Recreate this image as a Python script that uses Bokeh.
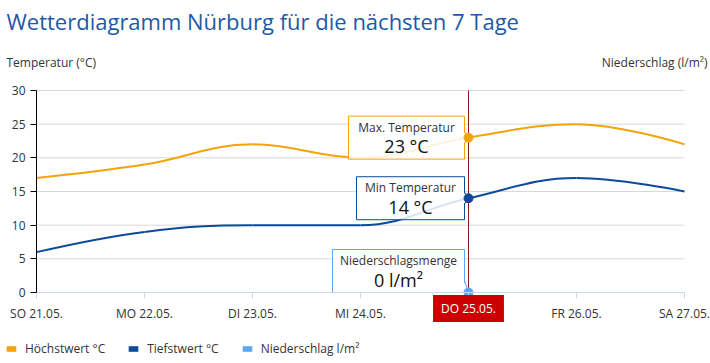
from bokeh.plotting import figure
from bokeh.models import Label, Legend, LegendItem, FixedTicker, Range1d
from bokeh.embed import file_html
from bokeh.resources import INLINE

# ---- data -------------------------------------------------------------
day_labels = ["SO 21.05.", "MO 22.05.", "DI 23.05.", "MI 24.05.",
              "DO 25.05.", "FR 26.05.", "SA 27.05."]
max_temp = [17, 19, 22, 20, 23, 25, 22]
min_temp = [6, 9, 10, 10, 14, 17, 15]
precip = [0, 0, 0, 0, 0, 0, 0]
y_ticks = [0, 5, 10, 15, 20, 25, 30]
selected = 4  # highlighted day (DO 25.05.)

# ---- layout (pixel geometry of the plot area inside the canvas) ----------
W, H = 710, 363
PL, PR, PT, PB = 36, 684, 90, 292
days = list(range(len(day_labels)))
X0, X1 = days[0], days[-1]
Y0, Y1 = y_ticks[0], y_ticks[-1]
PXX = (PR - PL) / (X1 - X0)
PXY = (PB - PT) / (Y1 - Y0)

FONT = "Open Sans"
ORANGE = "#f5a30b"
BLUE = "#0c4a9a"
LBLUE = "#5ba7f5"
RED = "#cc0000"
TEXT = "#333333"
TITLE = "#1d59a7"

x_range = Range1d(X0 - PL / PXX, X1 + (W - PR) / PXX)
y_range = Range1d(Y0 - (H - PB) / PXY, Y1 + PT / PXY)

p = figure(width=W, height=H, x_range=x_range, y_range=y_range,
           output_backend="svg", toolbar_location=None, title=None,
           min_border=0)
p.outline_line_color = None
p.background_fill_color = "white"
p.border_fill_color = "white"
p.xgrid.grid_line_color = None
p.ygrid.grid_line_color = None

# axes fixed at the data origin
p.xaxis.fixed_location = Y0
p.xaxis.bounds = (X0, X1)
p.xaxis.ticker = FixedTicker(ticks=days)
p.xaxis.major_label_overrides = {d: l for d, l in zip(days, day_labels)}
p.xaxis.axis_line_color = "#ccd6eb"
p.xaxis.major_tick_line_color = "#ccd6eb"
p.xaxis.major_tick_out = 6
p.xaxis.major_tick_in = 0
p.xaxis.minor_tick_line_color = None
p.xaxis.major_label_standoff = 6
p.yaxis.fixed_location = X0
p.yaxis.bounds = (Y0, Y1)
p.yaxis.ticker = FixedTicker(ticks=y_ticks)
p.yaxis.axis_line_color = "#000000"
p.yaxis.major_tick_line_color = "#000000"
p.yaxis.major_tick_out = 6
p.yaxis.major_tick_in = 0
p.yaxis.minor_tick_line_color = None
p.yaxis.major_label_standoff = 5
for ax in (p.xaxis, p.yaxis):
    ax.major_label_text_font = FONT
    ax.major_label_text_font_size = "12px"
    ax.major_label_text_color = TEXT

# horizontal grid lines across the plot area
p.segment(x0=[X0] * len(y_ticks), x1=[X1] * len(y_ticks), y0=y_ticks, y1=y_ticks,
          line_color="#d8d8d8", line_width=1, level="underlay")


# ---- Highcharts-like spline segments -----------------------------------
def spline(xs, ys, smoothing=1.5):
    n = len(xs)
    lc = [None] * n
    rc = [None] * n
    den = smoothing + 1
    for i in range(1, n - 1):
        x, y = xs[i], ys[i]
        lx, ly = xs[i - 1], ys[i - 1]
        nx, ny = xs[i + 1], ys[i + 1]
        lcx = (smoothing * x + lx) / den
        lcy = (smoothing * y + ly) / den
        rcx = (smoothing * x + nx) / den
        rcy = (smoothing * y + ny) / den
        corr = (rcy - lcy) * (rcx - x) / (rcx - lcx) + y - rcy
        lcy += corr
        rcy += corr
        if lcy > ly and lcy > y:
            lcy = max(ly, y); rcy = 2 * y - lcy
        elif lcy < ly and lcy < y:
            lcy = min(ly, y); rcy = 2 * y - lcy
        if rcy > ny and rcy > y:
            rcy = max(ny, y); lcy = 2 * y - rcy
        elif rcy < ny and rcy < y:
            rcy = min(ny, y); lcy = 2 * y - rcy
        lc[i] = (lcx, lcy)
        rc[i] = (rcx, rcy)
    d = dict(x0=[], y0=[], x1=[], y1=[], cx0=[], cy0=[], cx1=[], cy1=[])
    for i in range(n - 1):
        c0 = rc[i] or (xs[i], ys[i])
        c1 = lc[i + 1] or (xs[i + 1], ys[i + 1])
        d["x0"].append(xs[i]); d["y0"].append(ys[i])
        d["x1"].append(xs[i + 1]); d["y1"].append(ys[i + 1])
        d["cx0"].append(c0[0]); d["cy0"].append(c0[1])
        d["cx1"].append(c1[0]); d["cy1"].append(c1[1])
    return d


p.bezier(line_color=ORANGE, line_width=2, **spline(days, max_temp))
p.bezier(line_color=BLUE, line_width=2, **spline(days, min_temp))
r_pr = p.vbar(x=days, top=precip, bottom=0, width=0.5, fill_color=LBLUE, line_color=None)

# zero-width bars of the temperature series: only used for the square legend swatches
r_hi = p.vbar(x=days, top=max_temp, bottom=0, width=0, fill_color=ORANGE, line_color=None)
r_lo = p.vbar(x=days, top=min_temp, bottom=0, width=0, fill_color=BLUE, line_color=None)

# crosshair
p.segment(x0=[days[selected]], x1=[days[selected]], y0=[Y0], y1=[Y1],
          line_color="#8b1a1a", line_width=1)


# ---- tooltips ------------------------------------------------------------
def tooltip(val, width_px, title, text, color):
    xs = days[selected]
    h = 43
    yc = max(val, (h / 2) / PXY)
    gap = 4
    bx = xs - (gap + width_px / 2) / PXX
    right = xs - gap / PXX
    p.rect(x=[bx], y=[yc], width=[width_px / PXX], height=[h / PXY],
           fill_color="white", fill_alpha=0.85, line_color=color, line_width=1)
    top = yc + (h / 2) / PXY
    bot = yc - (h / 2) / PXY
    pc = min(max(val, bot + 6 / PXY), top - 6 / PXY)
    p.patch(x=[right - 1 / PXX, xs, right - 1 / PXX], y=[pc + 6 / PXY, val, pc - 6 / PXY],
            fill_color="white", fill_alpha=1, line_color=None)
    p.line(x=[right, xs, right], y=[pc + 6 / PXY, val, pc - 6 / PXY], line_color=color, line_width=1)
    off = -(gap + width_px / 2)
    p.add_layout(Label(x=xs, y=yc, x_offset=off, y_offset=10.5, text=title,
                       text_align="center", text_baseline="middle", text_font=FONT,
                       text_font_size="12px", text_color=TEXT))
    p.add_layout(Label(x=xs, y=yc, x_offset=off, y_offset=-8.5, text=text,
                       text_align="center", text_baseline="middle", text_font=FONT,
                       text_font_size="18px", text_color="#111111"))


tooltip(max_temp[selected], 116, "Max. Temperatur", f"{max_temp[selected]} °C", ORANGE)
tooltip(min_temp[selected], 108, "Min Temperatur", f"{min_temp[selected]} °C", BLUE)
tooltip(precip[selected], 132, "Niederschlagsmenge", f"{precip[selected]} l/m²", LBLUE)

p.scatter(x=[days[selected]] * 3, y=[max_temp[selected], min_temp[selected], precip[selected]],
          size=9, fill_color=[ORANGE, BLUE, LBLUE], line_color=[ORANGE, BLUE, LBLUE])

# highlighted day label on x axis
p.add_layout(Label(x=days[selected], y=Y0, y_offset=-16, text=day_labels[selected],
                   text_align="center", text_baseline="middle", text_font=FONT,
                   text_font_size="12px", text_color="white",
                   background_fill_color=RED,
                   padding=dict(left=8, right=8, top=5, bottom=5)))

# ---- titles --------------------------------------------------------------
p.add_layout(Label(x=X0, y=Y1, x_offset=6 - PL, y_offset=PT - 20,
                   text="Wetterdiagramm Nürburg für die nächsten 7 Tage",
                   text_align="left", text_baseline="middle", text_font=FONT,
                   text_font_size="22px", text_color=TITLE))
p.add_layout(Label(x=X0, y=Y1, x_offset=6 - PL, y_offset=PT - 62, text="Temperatur (°C)",
                   text_align="left", text_baseline="middle", text_font=FONT,
                   text_font_size="12px", text_color=TEXT))
p.add_layout(Label(x=X1, y=Y1, x_offset=707 - PR, y_offset=PT - 62, text="Niederschlag (l/m²)",
                   text_align="right", text_baseline="middle", text_font=FONT,
                   text_font_size="12px", text_color=TEXT))

legend = Legend(items=[LegendItem(label="Höchstwert °C", renderers=[r_hi]),
                       LegendItem(label="Tiefstwert °C", renderers=[r_lo]),
                       LegendItem(label="Niederschlag l/m²", renderers=[r_pr])],
                orientation="horizontal", location=(5, H - 348 - 10),
                label_text_font=FONT, label_text_font_size="12px", label_text_color=TEXT,
                glyph_width=12, glyph_height=7, label_standoff=8, spacing=22,
                label_height=20, padding=0, margin=0, border_line_color=None,
                background_fill_alpha=0)
p.add_layout(legend)

open("out.html", "w").write(file_html(p, INLINE))
